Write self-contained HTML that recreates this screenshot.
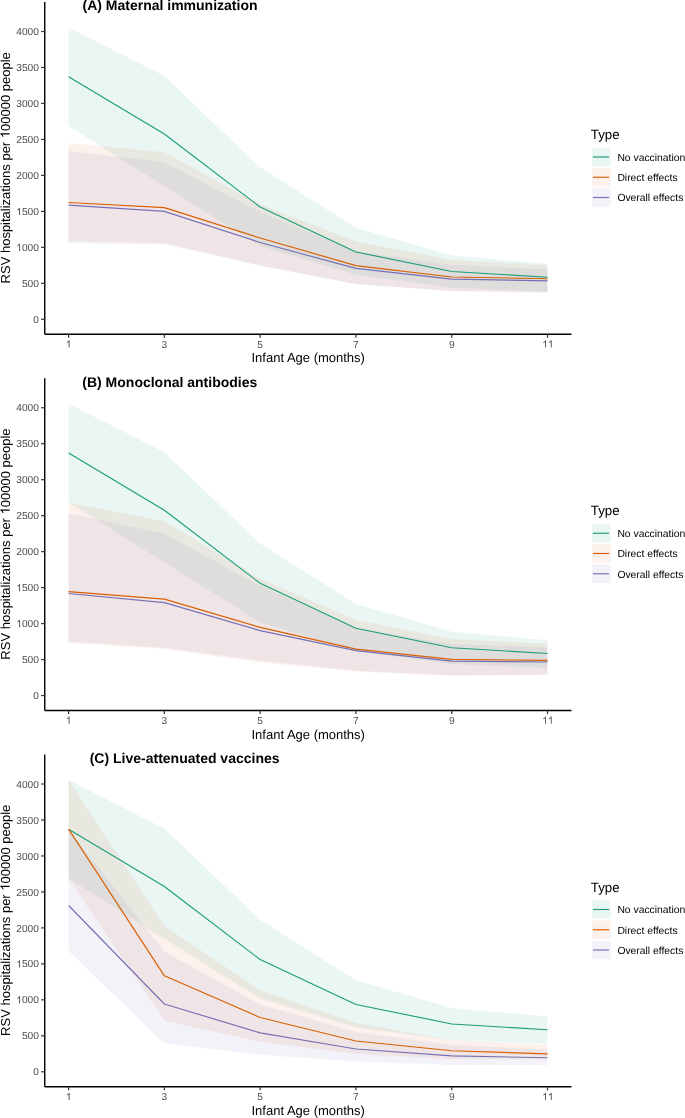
<!DOCTYPE html>
<html><head><meta charset="utf-8"><style>
html,body{margin:0;padding:0;background:#fff;}
body{width:685px;height:1118px;overflow:hidden;}
svg{display:block;font-family:"Liberation Sans", sans-serif;will-change:transform;text-rendering:geometricPrecision;}
</style></head><body>
<svg width="685" height="1118" viewBox="0 0 685 1118">
<rect width="685" height="1118" fill="#fff"/>
<polygon points="68.6,27.61 164.38,76.11 260.16,167.34 355.94,227.64 451.72,255.41 547.5,264.11 547.5,291.46 451.72,287.79 355.94,274.83 260.16,246.05 164.38,186.19 68.6,126.11" fill="#1B9E77" fill-opacity="0.09"/>
<polygon points="68.6,143.02 164.38,152.23 260.16,204.18 355.94,241.59 451.72,259.94 547.5,265.19 547.5,292.39 451.72,290.88 355.94,283.97 260.16,265.41 164.38,242.89 68.6,241.02" fill="#D9602A" fill-opacity="0.09"/>
<polygon points="68.6,150.72 164.38,162.16 260.16,212.09 355.94,251.31 451.72,264.76 547.5,269.58 547.5,292.68 451.72,291.1 355.94,284.19 260.16,265.7 164.38,244.4 68.6,243.32" fill="#7570B3" fill-opacity="0.09"/>
<polyline points="68.6,76.68 164.38,134.03 260.16,207.06 355.94,251.95 451.72,271.45 547.5,277.21" fill="none" stroke="#1B9E77" stroke-width="1.15" stroke-linejoin="round"/>
<polyline points="68.6,202.53 164.38,207.63 260.16,238 355.94,265.63 451.72,276.99 547.5,278.72" fill="none" stroke="#D95F02" stroke-width="1.15" stroke-linejoin="round"/>
<polyline points="68.6,205.12 164.38,211.38 260.16,242.53 355.94,268.43 451.72,279.08 547.5,280.81" fill="none" stroke="#7570B3" stroke-width="1.15" stroke-linejoin="round"/>
<line x1="44.75" y1="2" x2="44.75" y2="334.31" stroke="#000" stroke-width="1.4"/>
<line x1="44.75" y1="334.31" x2="571.45" y2="334.31" stroke="#000" stroke-width="1.4"/>
<line x1="41.15" y1="319.3" x2="44.75" y2="319.3" stroke="#333333" stroke-width="1.2"/>
<text x="38.9" y="322.9" text-anchor="end" font-size="10.2" fill="#4D4D4D">0</text>
<line x1="41.15" y1="283.32" x2="44.75" y2="283.32" stroke="#333333" stroke-width="1.2"/>
<text x="38.9" y="286.93" text-anchor="end" font-size="10.2" fill="#4D4D4D">500</text>
<line x1="41.15" y1="247.35" x2="44.75" y2="247.35" stroke="#333333" stroke-width="1.2"/>
<path transform="translate(16.24,250.95) scale(0.004980,-0.004980)" d="M763 0L583 0L583 1147Q518 1085 412 1023Q307 961 223 930L223 1104Q374 1175 487 1276Q600 1377 647 1472L763 1472Z" fill="#4D4D4D"/><text x="21.9" y="250.95" font-size="10.2" fill="#4D4D4D" xml:space="preserve">000</text>
<line x1="41.15" y1="211.38" x2="44.75" y2="211.38" stroke="#333333" stroke-width="1.2"/>
<path transform="translate(16.24,214.97) scale(0.004980,-0.004980)" d="M763 0L583 0L583 1147Q518 1085 412 1023Q307 961 223 930L223 1104Q374 1175 487 1276Q600 1377 647 1472L763 1472Z" fill="#4D4D4D"/><text x="21.9" y="214.97" font-size="10.2" fill="#4D4D4D" xml:space="preserve">500</text>
<line x1="41.15" y1="175.4" x2="44.75" y2="175.4" stroke="#333333" stroke-width="1.2"/>
<text x="38.9" y="179" text-anchor="end" font-size="10.2" fill="#4D4D4D">2000</text>
<line x1="41.15" y1="139.43" x2="44.75" y2="139.43" stroke="#333333" stroke-width="1.2"/>
<text x="38.9" y="143.03" text-anchor="end" font-size="10.2" fill="#4D4D4D">2500</text>
<line x1="41.15" y1="103.45" x2="44.75" y2="103.45" stroke="#333333" stroke-width="1.2"/>
<text x="38.9" y="107.05" text-anchor="end" font-size="10.2" fill="#4D4D4D">3000</text>
<line x1="41.15" y1="67.48" x2="44.75" y2="67.48" stroke="#333333" stroke-width="1.2"/>
<text x="38.9" y="71.08" text-anchor="end" font-size="10.2" fill="#4D4D4D">3500</text>
<line x1="41.15" y1="31.5" x2="44.75" y2="31.5" stroke="#333333" stroke-width="1.2"/>
<text x="38.9" y="35.1" text-anchor="end" font-size="10.2" fill="#4D4D4D">4000</text>
<line x1="68.6" y1="334.31" x2="68.6" y2="337.81" stroke="#333333" stroke-width="1.2"/>
<path transform="translate(65.77,347.6) scale(0.004980,-0.004980)" d="M763 0L583 0L583 1147Q518 1085 412 1023Q307 961 223 930L223 1104Q374 1175 487 1276Q600 1377 647 1472L763 1472Z" fill="#4D4D4D"/>
<line x1="164.38" y1="334.31" x2="164.38" y2="337.81" stroke="#333333" stroke-width="1.2"/>
<text x="164.38" y="347.6" text-anchor="middle" font-size="10.2" fill="#4D4D4D">3</text>
<line x1="260.16" y1="334.31" x2="260.16" y2="337.81" stroke="#333333" stroke-width="1.2"/>
<text x="260.16" y="347.6" text-anchor="middle" font-size="10.2" fill="#4D4D4D">5</text>
<line x1="355.94" y1="334.31" x2="355.94" y2="337.81" stroke="#333333" stroke-width="1.2"/>
<text x="355.94" y="347.6" text-anchor="middle" font-size="10.2" fill="#4D4D4D">7</text>
<line x1="451.72" y1="334.31" x2="451.72" y2="337.81" stroke="#333333" stroke-width="1.2"/>
<text x="451.72" y="347.6" text-anchor="middle" font-size="10.2" fill="#4D4D4D">9</text>
<line x1="547.5" y1="334.31" x2="547.5" y2="337.81" stroke="#333333" stroke-width="1.2"/>
<path transform="translate(542.21,347.6) scale(0.004980,-0.004980)" d="M763 0L583 0L583 1147Q518 1085 412 1023Q307 961 223 930L223 1104Q374 1175 487 1276Q600 1377 647 1472L763 1472Z" fill="#4D4D4D"/><path transform="translate(547.88,347.6) scale(0.004980,-0.004980)" d="M763 0L583 0L583 1147Q518 1085 412 1023Q307 961 223 930L223 1104Q374 1175 487 1276Q600 1377 647 1472L763 1472Z" fill="#4D4D4D"/>
<text x="308.2" y="362.3" text-anchor="middle" font-size="13" fill="#000">Infant Age (months)</text>
<g transform="translate(9.6,167.8) rotate(-90)"><text x="-115.64" y="0" font-size="13" fill="#000" xml:space="preserve">RSV hospitalizations per </text><path transform="translate(29.61,0) scale(0.006348,-0.006348)" d="M763 0L583 0L583 1147Q518 1085 412 1023Q307 961 223 930L223 1104Q374 1175 487 1276Q600 1377 647 1472L763 1472Z" fill="#000"/><text x="36.84" y="0" font-size="13" fill="#000" xml:space="preserve">00000 people</text></g>
<text x="82.5" y="10.2" font-size="14" font-weight="bold" fill="#000">(A) Maternal immunization</text>
<text x="590.8" y="139" font-size="13.3" fill="#000">Type</text>
<rect x="591.9" y="147.8" width="18.8" height="18.4" fill="#1B9E77" fill-opacity="0.09"/>
<line x1="592.9" y1="157" x2="609.1" y2="157" stroke="#1B9E77" stroke-width="1.15"/>
<text x="617.4" y="160.8" font-size="10.35" fill="#000">No vaccination</text>
<rect x="591.9" y="168.05" width="18.8" height="18.4" fill="#D9602A" fill-opacity="0.09"/>
<line x1="592.9" y1="177.25" x2="609.1" y2="177.25" stroke="#D95F02" stroke-width="1.15"/>
<text x="617.4" y="181.05" font-size="10.35" fill="#000">Direct effects</text>
<rect x="591.9" y="188.3" width="18.8" height="18.4" fill="#7570B3" fill-opacity="0.09"/>
<line x1="592.9" y1="197.5" x2="609.1" y2="197.5" stroke="#7570B3" stroke-width="1.15"/>
<text x="617.4" y="201.3" font-size="10.35" fill="#000">Overall effects</text>
<polygon points="68.6,403.86 164.38,452.36 260.16,543.59 355.94,603.89 451.72,631.66 547.5,640.36 547.5,667.71 451.72,664.04 355.94,651.08 260.16,622.3 164.38,562.44 68.6,502.36" fill="#1B9E77" fill-opacity="0.09"/>
<polygon points="68.6,502.51 164.38,521.14 260.16,578.63 355.94,619.64 451.72,638.93 547.5,643.75 547.5,675.04 451.72,675.84 355.94,671.52 260.16,662.24 164.38,648.78 68.6,643.03" fill="#D9602A" fill-opacity="0.09"/>
<polygon points="68.6,513.16 164.38,533.66 260.16,585.83 355.94,628.28 451.72,643.96 547.5,647.56 547.5,674.83 451.72,675.26 355.94,670.66 260.16,660.44 164.38,648.06 68.6,641.23" fill="#7570B3" fill-opacity="0.09"/>
<polyline points="68.6,452.93 164.38,510.28 260.16,583.31 355.94,628.2 451.72,647.7 547.5,653.46" fill="none" stroke="#1B9E77" stroke-width="1.15" stroke-linejoin="round"/>
<polyline points="68.6,591.58 164.38,599.14 260.16,627.34 355.94,649.14 451.72,659.43 547.5,660.44" fill="none" stroke="#D95F02" stroke-width="1.15" stroke-linejoin="round"/>
<polyline points="68.6,593.45 164.38,602.66 260.16,630.58 355.94,650.58 451.72,661.16 547.5,662.02" fill="none" stroke="#7570B3" stroke-width="1.15" stroke-linejoin="round"/>
<line x1="44.75" y1="378.25" x2="44.75" y2="710.56" stroke="#000" stroke-width="1.4"/>
<line x1="44.75" y1="710.56" x2="571.45" y2="710.56" stroke="#000" stroke-width="1.4"/>
<line x1="41.15" y1="695.55" x2="44.75" y2="695.55" stroke="#333333" stroke-width="1.2"/>
<text x="38.9" y="699.15" text-anchor="end" font-size="10.2" fill="#4D4D4D">0</text>
<line x1="41.15" y1="659.57" x2="44.75" y2="659.57" stroke="#333333" stroke-width="1.2"/>
<text x="38.9" y="663.17" text-anchor="end" font-size="10.2" fill="#4D4D4D">500</text>
<line x1="41.15" y1="623.6" x2="44.75" y2="623.6" stroke="#333333" stroke-width="1.2"/>
<path transform="translate(16.24,627.2) scale(0.004980,-0.004980)" d="M763 0L583 0L583 1147Q518 1085 412 1023Q307 961 223 930L223 1104Q374 1175 487 1276Q600 1377 647 1472L763 1472Z" fill="#4D4D4D"/><text x="21.9" y="627.2" font-size="10.2" fill="#4D4D4D" xml:space="preserve">000</text>
<line x1="41.15" y1="587.62" x2="44.75" y2="587.62" stroke="#333333" stroke-width="1.2"/>
<path transform="translate(16.24,591.23) scale(0.004980,-0.004980)" d="M763 0L583 0L583 1147Q518 1085 412 1023Q307 961 223 930L223 1104Q374 1175 487 1276Q600 1377 647 1472L763 1472Z" fill="#4D4D4D"/><text x="21.9" y="591.23" font-size="10.2" fill="#4D4D4D" xml:space="preserve">500</text>
<line x1="41.15" y1="551.65" x2="44.75" y2="551.65" stroke="#333333" stroke-width="1.2"/>
<text x="38.9" y="555.25" text-anchor="end" font-size="10.2" fill="#4D4D4D">2000</text>
<line x1="41.15" y1="515.67" x2="44.75" y2="515.67" stroke="#333333" stroke-width="1.2"/>
<text x="38.9" y="519.27" text-anchor="end" font-size="10.2" fill="#4D4D4D">2500</text>
<line x1="41.15" y1="479.7" x2="44.75" y2="479.7" stroke="#333333" stroke-width="1.2"/>
<text x="38.9" y="483.3" text-anchor="end" font-size="10.2" fill="#4D4D4D">3000</text>
<line x1="41.15" y1="443.72" x2="44.75" y2="443.72" stroke="#333333" stroke-width="1.2"/>
<text x="38.9" y="447.32" text-anchor="end" font-size="10.2" fill="#4D4D4D">3500</text>
<line x1="41.15" y1="407.75" x2="44.75" y2="407.75" stroke="#333333" stroke-width="1.2"/>
<text x="38.9" y="411.35" text-anchor="end" font-size="10.2" fill="#4D4D4D">4000</text>
<line x1="68.6" y1="710.56" x2="68.6" y2="714.06" stroke="#333333" stroke-width="1.2"/>
<path transform="translate(65.77,723.85) scale(0.004980,-0.004980)" d="M763 0L583 0L583 1147Q518 1085 412 1023Q307 961 223 930L223 1104Q374 1175 487 1276Q600 1377 647 1472L763 1472Z" fill="#4D4D4D"/>
<line x1="164.38" y1="710.56" x2="164.38" y2="714.06" stroke="#333333" stroke-width="1.2"/>
<text x="164.38" y="723.85" text-anchor="middle" font-size="10.2" fill="#4D4D4D">3</text>
<line x1="260.16" y1="710.56" x2="260.16" y2="714.06" stroke="#333333" stroke-width="1.2"/>
<text x="260.16" y="723.85" text-anchor="middle" font-size="10.2" fill="#4D4D4D">5</text>
<line x1="355.94" y1="710.56" x2="355.94" y2="714.06" stroke="#333333" stroke-width="1.2"/>
<text x="355.94" y="723.85" text-anchor="middle" font-size="10.2" fill="#4D4D4D">7</text>
<line x1="451.72" y1="710.56" x2="451.72" y2="714.06" stroke="#333333" stroke-width="1.2"/>
<text x="451.72" y="723.85" text-anchor="middle" font-size="10.2" fill="#4D4D4D">9</text>
<line x1="547.5" y1="710.56" x2="547.5" y2="714.06" stroke="#333333" stroke-width="1.2"/>
<path transform="translate(542.21,723.85) scale(0.004980,-0.004980)" d="M763 0L583 0L583 1147Q518 1085 412 1023Q307 961 223 930L223 1104Q374 1175 487 1276Q600 1377 647 1472L763 1472Z" fill="#4D4D4D"/><path transform="translate(547.88,723.85) scale(0.004980,-0.004980)" d="M763 0L583 0L583 1147Q518 1085 412 1023Q307 961 223 930L223 1104Q374 1175 487 1276Q600 1377 647 1472L763 1472Z" fill="#4D4D4D"/>
<text x="308.2" y="738.55" text-anchor="middle" font-size="13" fill="#000">Infant Age (months)</text>
<g transform="translate(9.6,544.05) rotate(-90)"><text x="-115.64" y="0" font-size="13" fill="#000" xml:space="preserve">RSV hospitalizations per </text><path transform="translate(29.61,0) scale(0.006348,-0.006348)" d="M763 0L583 0L583 1147Q518 1085 412 1023Q307 961 223 930L223 1104Q374 1175 487 1276Q600 1377 647 1472L763 1472Z" fill="#000"/><text x="36.84" y="0" font-size="13" fill="#000" xml:space="preserve">00000 people</text></g>
<text x="82.3" y="386.65" font-size="14" font-weight="bold" fill="#000">(B) Monoclonal antibodies</text>
<text x="590.8" y="515.25" font-size="13.3" fill="#000">Type</text>
<rect x="591.9" y="524.05" width="18.8" height="18.4" fill="#1B9E77" fill-opacity="0.09"/>
<line x1="592.9" y1="533.25" x2="609.1" y2="533.25" stroke="#1B9E77" stroke-width="1.15"/>
<text x="617.4" y="537.05" font-size="10.35" fill="#000">No vaccination</text>
<rect x="591.9" y="544.3" width="18.8" height="18.4" fill="#D9602A" fill-opacity="0.09"/>
<line x1="592.9" y1="553.5" x2="609.1" y2="553.5" stroke="#D95F02" stroke-width="1.15"/>
<text x="617.4" y="557.3" font-size="10.35" fill="#000">Direct effects</text>
<rect x="591.9" y="564.55" width="18.8" height="18.4" fill="#7570B3" fill-opacity="0.09"/>
<line x1="592.9" y1="573.75" x2="609.1" y2="573.75" stroke="#7570B3" stroke-width="1.15"/>
<text x="617.4" y="577.55" font-size="10.35" fill="#000">Overall effects</text>
<polygon points="68.6,780.11 164.38,828.61 260.16,919.84 355.94,980.14 451.72,1007.91 547.5,1016.61 547.5,1043.96 451.72,1040.29 355.94,1027.33 260.16,998.55 164.38,938.69 68.6,878.61" fill="#1B9E77" fill-opacity="0.09"/>
<polygon points="68.6,780.11 164.38,925.89 260.16,990.06 355.94,1023.09 451.72,1040.29 547.5,1044.89 547.5,1059.42 451.72,1058.99 355.94,1053.88 260.16,1041.87 164.38,1020.57 68.6,878.61" fill="#D9602A" fill-opacity="0.09"/>
<polygon points="68.6,829.69 164.38,951.72 260.16,1004.6 355.94,1032.01 451.72,1045.11 547.5,1049.57 547.5,1065.11 451.72,1065.11 355.94,1061.51 260.16,1054.68 164.38,1043.38 68.6,951.28" fill="#7570B3" fill-opacity="0.09"/>
<polyline points="68.6,829.18 164.38,886.53 260.16,959.56 355.94,1004.45 451.72,1023.95 547.5,1029.71" fill="none" stroke="#1B9E77" stroke-width="1.15" stroke-linejoin="round"/>
<polyline points="68.6,829.18 164.38,975.82 260.16,1017.48 355.94,1041.01 451.72,1050.79 547.5,1053.81" fill="none" stroke="#D95F02" stroke-width="1.15" stroke-linejoin="round"/>
<polyline points="68.6,905.52 164.38,1004.02 260.16,1032.88 355.94,1048.99 451.72,1055.83 547.5,1057.77" fill="none" stroke="#7570B3" stroke-width="1.15" stroke-linejoin="round"/>
<line x1="44.75" y1="754.5" x2="44.75" y2="1086.81" stroke="#000" stroke-width="1.4"/>
<line x1="44.75" y1="1086.81" x2="571.45" y2="1086.81" stroke="#000" stroke-width="1.4"/>
<line x1="41.15" y1="1071.8" x2="44.75" y2="1071.8" stroke="#333333" stroke-width="1.2"/>
<text x="38.9" y="1075.4" text-anchor="end" font-size="10.2" fill="#4D4D4D">0</text>
<line x1="41.15" y1="1035.83" x2="44.75" y2="1035.83" stroke="#333333" stroke-width="1.2"/>
<text x="38.9" y="1039.42" text-anchor="end" font-size="10.2" fill="#4D4D4D">500</text>
<line x1="41.15" y1="999.85" x2="44.75" y2="999.85" stroke="#333333" stroke-width="1.2"/>
<path transform="translate(16.24,1003.45) scale(0.004980,-0.004980)" d="M763 0L583 0L583 1147Q518 1085 412 1023Q307 961 223 930L223 1104Q374 1175 487 1276Q600 1377 647 1472L763 1472Z" fill="#4D4D4D"/><text x="21.9" y="1003.45" font-size="10.2" fill="#4D4D4D" xml:space="preserve">000</text>
<line x1="41.15" y1="963.88" x2="44.75" y2="963.88" stroke="#333333" stroke-width="1.2"/>
<path transform="translate(16.24,967.48) scale(0.004980,-0.004980)" d="M763 0L583 0L583 1147Q518 1085 412 1023Q307 961 223 930L223 1104Q374 1175 487 1276Q600 1377 647 1472L763 1472Z" fill="#4D4D4D"/><text x="21.9" y="967.48" font-size="10.2" fill="#4D4D4D" xml:space="preserve">500</text>
<line x1="41.15" y1="927.9" x2="44.75" y2="927.9" stroke="#333333" stroke-width="1.2"/>
<text x="38.9" y="931.5" text-anchor="end" font-size="10.2" fill="#4D4D4D">2000</text>
<line x1="41.15" y1="891.92" x2="44.75" y2="891.92" stroke="#333333" stroke-width="1.2"/>
<text x="38.9" y="895.52" text-anchor="end" font-size="10.2" fill="#4D4D4D">2500</text>
<line x1="41.15" y1="855.95" x2="44.75" y2="855.95" stroke="#333333" stroke-width="1.2"/>
<text x="38.9" y="859.55" text-anchor="end" font-size="10.2" fill="#4D4D4D">3000</text>
<line x1="41.15" y1="819.97" x2="44.75" y2="819.97" stroke="#333333" stroke-width="1.2"/>
<text x="38.9" y="823.57" text-anchor="end" font-size="10.2" fill="#4D4D4D">3500</text>
<line x1="41.15" y1="784" x2="44.75" y2="784" stroke="#333333" stroke-width="1.2"/>
<text x="38.9" y="787.6" text-anchor="end" font-size="10.2" fill="#4D4D4D">4000</text>
<line x1="68.6" y1="1086.81" x2="68.6" y2="1090.31" stroke="#333333" stroke-width="1.2"/>
<path transform="translate(65.77,1100.1) scale(0.004980,-0.004980)" d="M763 0L583 0L583 1147Q518 1085 412 1023Q307 961 223 930L223 1104Q374 1175 487 1276Q600 1377 647 1472L763 1472Z" fill="#4D4D4D"/>
<line x1="164.38" y1="1086.81" x2="164.38" y2="1090.31" stroke="#333333" stroke-width="1.2"/>
<text x="164.38" y="1100.1" text-anchor="middle" font-size="10.2" fill="#4D4D4D">3</text>
<line x1="260.16" y1="1086.81" x2="260.16" y2="1090.31" stroke="#333333" stroke-width="1.2"/>
<text x="260.16" y="1100.1" text-anchor="middle" font-size="10.2" fill="#4D4D4D">5</text>
<line x1="355.94" y1="1086.81" x2="355.94" y2="1090.31" stroke="#333333" stroke-width="1.2"/>
<text x="355.94" y="1100.1" text-anchor="middle" font-size="10.2" fill="#4D4D4D">7</text>
<line x1="451.72" y1="1086.81" x2="451.72" y2="1090.31" stroke="#333333" stroke-width="1.2"/>
<text x="451.72" y="1100.1" text-anchor="middle" font-size="10.2" fill="#4D4D4D">9</text>
<line x1="547.5" y1="1086.81" x2="547.5" y2="1090.31" stroke="#333333" stroke-width="1.2"/>
<path transform="translate(542.21,1100.1) scale(0.004980,-0.004980)" d="M763 0L583 0L583 1147Q518 1085 412 1023Q307 961 223 930L223 1104Q374 1175 487 1276Q600 1377 647 1472L763 1472Z" fill="#4D4D4D"/><path transform="translate(547.88,1100.1) scale(0.004980,-0.004980)" d="M763 0L583 0L583 1147Q518 1085 412 1023Q307 961 223 930L223 1104Q374 1175 487 1276Q600 1377 647 1472L763 1472Z" fill="#4D4D4D"/>
<text x="308.2" y="1114.8" text-anchor="middle" font-size="13" fill="#000">Infant Age (months)</text>
<g transform="translate(9.6,920.3) rotate(-90)"><text x="-115.64" y="0" font-size="13" fill="#000" xml:space="preserve">RSV hospitalizations per </text><path transform="translate(29.61,0) scale(0.006348,-0.006348)" d="M763 0L583 0L583 1147Q518 1085 412 1023Q307 961 223 930L223 1104Q374 1175 487 1276Q600 1377 647 1472L763 1472Z" fill="#000"/><text x="36.84" y="0" font-size="13" fill="#000" xml:space="preserve">00000 people</text></g>
<text x="89.7" y="763.2" font-size="14" font-weight="bold" fill="#000">(C) Live-attenuated vaccines</text>
<text x="590.8" y="891.5" font-size="13.3" fill="#000">Type</text>
<rect x="591.9" y="900.3" width="18.8" height="18.4" fill="#1B9E77" fill-opacity="0.09"/>
<line x1="592.9" y1="909.5" x2="609.1" y2="909.5" stroke="#1B9E77" stroke-width="1.15"/>
<text x="617.4" y="913.3" font-size="10.35" fill="#000">No vaccination</text>
<rect x="591.9" y="920.55" width="18.8" height="18.4" fill="#D9602A" fill-opacity="0.09"/>
<line x1="592.9" y1="929.75" x2="609.1" y2="929.75" stroke="#D95F02" stroke-width="1.15"/>
<text x="617.4" y="933.55" font-size="10.35" fill="#000">Direct effects</text>
<rect x="591.9" y="940.8" width="18.8" height="18.4" fill="#7570B3" fill-opacity="0.09"/>
<line x1="592.9" y1="950" x2="609.1" y2="950" stroke="#7570B3" stroke-width="1.15"/>
<text x="617.4" y="953.8" font-size="10.35" fill="#000">Overall effects</text>
</svg>
</body></html>
